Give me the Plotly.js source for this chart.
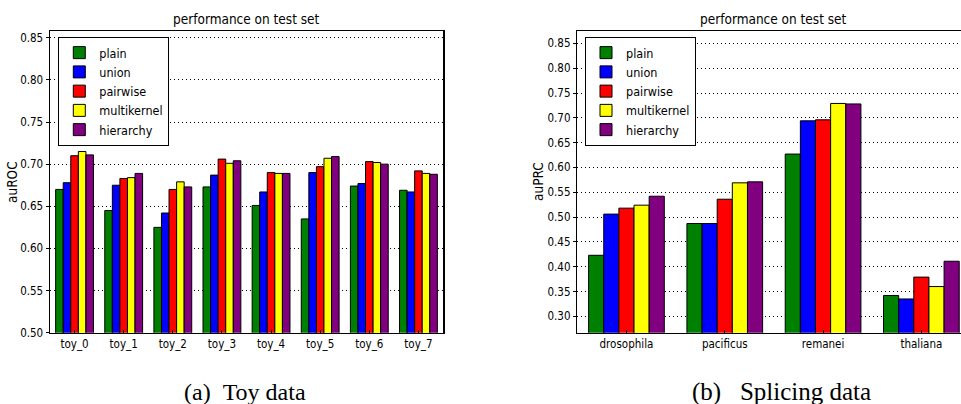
<!DOCTYPE html>
<html>
<head>
<meta charset="utf-8">
<script src="https://cdn.plot.ly/plotly-3.0.1.min.js"></script>
<style>html,body{margin:0;padding:0;background:#fff;overflow:hidden}#chart{width:961px;height:404px}</style>
</head>
<body>
<div id="chart"></div>
<script>
// ---- data ----
const seriesNames = ['plain', 'union', 'pairwise', 'multikernel', 'hierarchy'];
const seriesColors = ['#008000', '#0000ff', '#ff0000', '#ffff00', '#800080'];

const toyCategories = ['toy_0', 'toy_1', 'toy_2', 'toy_3', 'toy_4', 'toy_5', 'toy_6', 'toy_7'];
const toyPlain       = [0.670, 0.645, 0.625, 0.673, 0.651, 0.635, 0.674, 0.669];
const toyUnion       = [0.678, 0.675, 0.642, 0.687, 0.667, 0.690, 0.677, 0.667];
const toyPairwise    = [0.710, 0.683, 0.670, 0.706, 0.690, 0.697, 0.703, 0.692];
const toyMultikernel = [0.715, 0.684, 0.679, 0.701, 0.689, 0.707, 0.702, 0.689];
const toyHierarchy   = [0.711, 0.689, 0.673, 0.704, 0.689, 0.709, 0.700, 0.688];

const spliceCategories = ['drosophila', 'pacificus', 'remanei', 'thaliana'];
const splicePlain       = [0.423, 0.487, 0.627, 0.342];
const spliceUnion       = [0.506, 0.487, 0.694, 0.335];
const splicePairwise    = [0.518, 0.536, 0.696, 0.379];
const spliceMultikernel = [0.524, 0.569, 0.729, 0.360];
const spliceHierarchy   = [0.542, 0.571, 0.728, 0.411];

const toyTicks = [0.50, 0.55, 0.60, 0.65, 0.70, 0.75, 0.80, 0.85];
const spliceTicks = [0.30, 0.35, 0.40, 0.45, 0.50, 0.55, 0.60, 0.65, 0.70, 0.75, 0.80, 0.85];

const toySeries = [toyPlain, toyUnion, toyPairwise, toyMultikernel, toyHierarchy];
const spliceSeries = [splicePlain, spliceUnion, splicePairwise, spliceMultikernel, spliceHierarchy];

// ---- figure ----
const W = 961, H = 404;
const px = v => v / W;
const py = v => (H - v) / H;
const FONT = 'DejaVu Sans Condensed, DejaVu Sans, sans-serif';

const traces = [];
seriesNames.forEach((name, i) => {
  traces.push({
    type: 'bar', name: name, x: toyCategories, y: toySeries[i],
    xaxis: 'x', yaxis: 'y', legend: 'legend',
    marker: {color: seriesColors[i], line: {color: '#000', width: 1}}
  });
});
seriesNames.forEach((name, i) => {
  traces.push({
    type: 'bar', name: name, x: spliceCategories, y: spliceSeries[i],
    xaxis: 'x2', yaxis: 'y2', legend: 'legend2',
    marker: {color: seriesColors[i], line: {color: '#000', width: 1}}
  });
});

const axisCommon = {
  showline: true, linecolor: '#000', linewidth: 1.5,
  tickfont: {family: FONT, size: 11.5, color: '#000'},
  zeroline: false
};

const legendCommon = {
  bgcolor: '#fff', bordercolor: '#000', borderwidth: 1,
  font: {family: FONT, size: 12.5, color: '#000'},
  xanchor: 'left', yanchor: 'top', tracegroupgap: 0
};

const layout = {
  width: W, height: H,
  margin: {l: 0, r: 0, t: 0, b: 0},
  paper_bgcolor: '#fff', plot_bgcolor: '#fff',
  barmode: 'group', bargap: 0.23, bargroupgap: 0,
  font: {family: FONT, color: '#000'},
  xaxis: Object.assign({}, axisCommon, {
    domain: [px(50), px(443)], anchor: 'y', mirror: true,
    type: 'category', range: [-0.5, 7.5],
    ticks: 'inside', ticklen: 3, tickcolor: '#000', showgrid: false
  }),
  yaxis: Object.assign({}, axisCommon, {
    domain: [py(332.7), py(31)], anchor: 'x', mirror: true,
    range: [0.5, 0.858], tickvals: toyTicks, tickformat: '.2f',
    ticks: 'outside', ticklen: 3, tickcolor: '#000',
    showgrid: true, gridcolor: '#000', griddash: '1px,3px', gridwidth: 1
  }),
  xaxis2: Object.assign({}, axisCommon, {
    domain: [px(577.3), 1], anchor: 'y2', mirror: true,
    type: 'category', range: [-0.5, 3.403],
    ticks: 'inside', ticklen: 3, tickcolor: '#000', showgrid: false
  }),
  yaxis2: Object.assign({}, axisCommon, {
    domain: [py(332.7), py(31)], anchor: 'x2', mirror: false,
    range: [0.267, 0.875], tickvals: spliceTicks, tickformat: '.2f',
    ticks: 'outside', ticklen: 3, tickcolor: '#000',
    showgrid: true, gridcolor: '#000', griddash: '1px,3px', gridwidth: 1
  }),
  legend: Object.assign({}, legendCommon, {x: px(58.3), y: py(37)}),
  legend2: Object.assign({}, legendCommon, {x: px(585), y: py(37)}),
  annotations: [
    {text: 'performance on test set', xref: 'paper', yref: 'paper', x: px(246.5), y: py(18.5),
     xanchor: 'center', yanchor: 'middle', showarrow: false, font: {family: FONT, size: 13.5, color: '#000'}},
    {text: 'performance on test set', xref: 'paper', yref: 'paper', x: px(773.7), y: py(18.5),
     xanchor: 'center', yanchor: 'middle', showarrow: false, font: {family: FONT, size: 13.5, color: '#000'}},
    {text: 'auROC', xref: 'paper', yref: 'paper', x: px(12), y: py(182), textangle: -90,
     xanchor: 'center', yanchor: 'middle', showarrow: false, font: {family: FONT, size: 13.5, color: '#000'}},
    {text: 'auPRC', xref: 'paper', yref: 'paper', x: px(538), y: py(182), textangle: -90,
     xanchor: 'center', yanchor: 'middle', showarrow: false, font: {family: FONT, size: 13.5, color: '#000'}},
    {text: '(a)\u00a0\u00a0Toy data', xref: 'paper', yref: 'paper', x: px(245.3), y: py(392),
     xanchor: 'center', yanchor: 'middle', showarrow: false,
     font: {family: 'Liberation Serif, Times New Roman, serif', size: 24, color: '#000'}},
    {text: '(b)\u00a0\u00a0\u00a0Splicing data', xref: 'paper', yref: 'paper', x: px(781), y: py(392),
     xanchor: 'center', yanchor: 'middle', showarrow: false,
     font: {family: 'Liberation Serif, Times New Roman, serif', size: 25, color: '#000'}}
  ]
};

Plotly.newPlot('chart', traces, layout, {displayModeBar: false, staticPlot: true});
</script>
</body>
</html>
